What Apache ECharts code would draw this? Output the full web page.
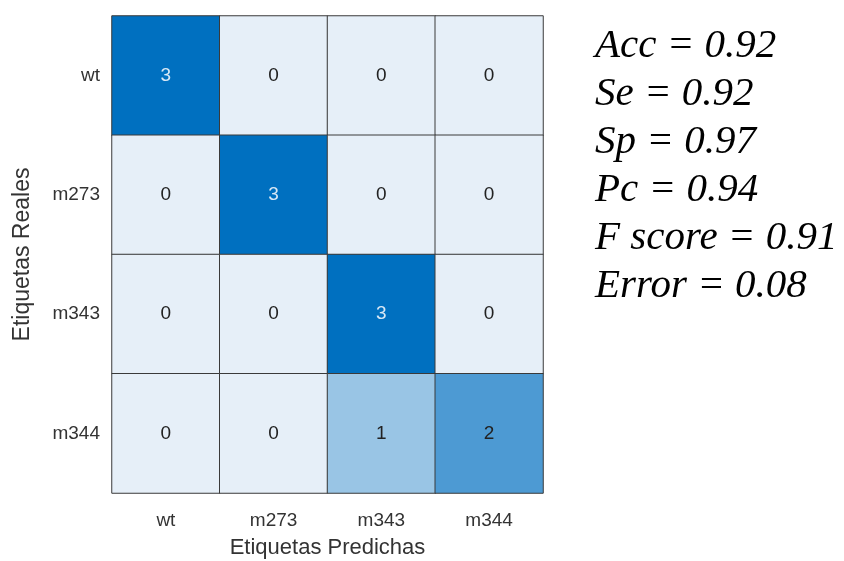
<!DOCTYPE html>
<html><head><meta charset="utf-8">
<script src="https://cdn.jsdelivr.net/npm/echarts@6/dist/echarts.min.js"></script>
<style>html,body{margin:0;padding:0;background:#fff}#c{width:844px;height:561px}</style>
</head><body><div id="c"></div>
<script>
const predLabels = ['wt','m273','m343','m344'];
const realLabels = ['wt','m273','m343','m344'];
const matrix = [
  [3,0,0,0],
  [0,3,0,0],
  [0,0,3,0],
  [0,0,1,2]
];
const metricLines = ['Acc = 0.92','Se = 0.92','Sp = 0.97','Pc = 0.94','F score = 0.91','Error = 0.08'];

const data = [];
matrix.forEach((row, r) => row.forEach((v, c) => data.push([c, r, v])));

const chart = echarts.init(document.getElementById('c'));
chart.setOption({
  animation: false,
  backgroundColor: '#fff',
  grid: {left: 112, top: 16, right: 301, bottom: 68, containLabel: false, outerBoundsMode: 'none'},
  xAxis: {
    type: 'category', data: predLabels,
    name: 'Etiquetas Predichas', nameLocation: 'middle', nameGap: 44,
    nameTextStyle: {fontFamily: 'Liberation Sans', fontSize: 22, color: '#333'},
    axisLine: {show: false}, axisTick: {show: false},
    axisLabel: {fontFamily: 'Liberation Sans', fontSize: 19, color: '#333', margin: 18},
    splitLine: {show: false}
  },
  yAxis: {
    type: 'category', data: realLabels, inverse: true,
    name: 'Etiquetas Reales', nameLocation: 'middle', nameGap: 78,
    nameTextStyle: {fontFamily: 'Liberation Sans', fontSize: 23, color: '#333'},
    axisLine: {show: false}, axisTick: {show: false},
    axisLabel: {fontFamily: 'Liberation Sans', fontSize: 19, color: '#333', margin: 12},
    splitLine: {show: false}
  },
  visualMap: {show: false, min: 0, max: 3, inRange: {color: ['#E6EFF8', '#0070C0']}},
  series: [{
    type: 'heatmap',
    data: data.map(d => ({value: d, label: {color: d[2] === 3 ? '#d8e8f5' : '#222'}})),
    itemStyle: {borderColor: '#3a3a3a', borderWidth: 1},
    label: {
      show: true, fontFamily: 'Liberation Sans', fontSize: 19,
      formatter: p => String(p.value[2])
    }
  }],
  graphic: metricLines.map((t, i) => ({
    type: 'text', left: 595, top: 26 + i * 48,
    style: {text: t, fontFamily: 'Liberation Serif', fontStyle: 'italic', fontSize: 41, fill: '#000'}
  }))
});
</script></body></html>
